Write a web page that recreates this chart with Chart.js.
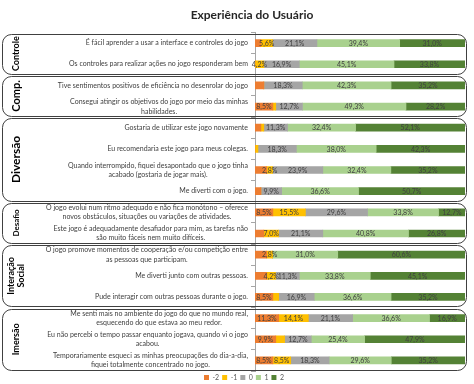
<!DOCTYPE html>
<html><head><meta charset="utf-8">
<script src="https://cdn.jsdelivr.net/npm/chart.js@4/dist/chart.umd.min.js"></script>
<style>html,body{margin:0;padding:0;background:#fff}</style>
</head><body>
<canvas id="c" width="474" height="384"></canvas>
<script>
const chartTitle = "Experiência do Usuário";
const questions = [
  "É fácil aprender a usar a interface e controles do jogo",
  "Os controles para realizar ações no jogo responderam bem",
  "Tive sentimentos positivos de eficiência no desenrolar do jogo",
  ["Consegui atingir os objetivos do jogo por meio das minhas", "habilidades."],
  "Gostaria de utilizar este jogo novamente",
  "Eu recomendaria este jogo para meus colegas.",
  ["Quando interrompido, fiquei desapontado que o jogo tinha", "acabado (gostaria de jogar mais)."],
  "Me diverti com o jogo.",
  ["O jogo evolui num ritmo adequado e não fica monótono – oferece", "novos obstáculos, situações ou variações de atividades."],
  ["Este jogo é adequadamente desafiador para mim, as tarefas não", "são muito fáceis nem muito difíceis."],
  ["O jogo promove momentos de cooperação e/ou competição entre", "as pessoas que participam."],
  "Me diverti junto com outras pessoas.",
  "Pude interagir com outras pessoas durante o jogo.",
  ["Me senti mais no ambiente do jogo do que no mundo real,", "esquecendo do que estava ao meu redor."],
  ["Eu não percebi o tempo passar enquanto jogava, quando vi o jogo", "acabou."],
  ["Temporariamente esqueci as minhas preocupações do dia-a-dia,", "fiquei totalmente concentrado no jogo."]
];
const groupNames = [["Controle"], ["Comp."], ["Diversão"], ["Desafio"], ["Interação", "Social"], ["Imersão"]];
const groupSizes = [2, 2, 4, 2, 3, 3];
const seriesNames = ["-2", "-1", "0", "1", "2"];
const valM2 = [2.8, 0, 4.2, 8.5, 2.8, 0, 5.6, 2.8, 8.5, 4.2, 5.6, 5.6, 8.5, 11.3, 9.9, 8.5];
const valM1 = [5.6, 4.2, 0, 1.4, 1.4, 1.4, 2.8, 0, 15.5, 7.0, 2.8, 4.2, 2.8, 14.1, 4.2, 8.5];
const val0  = [21.1, 16.9, 18.3, 12.7, 11.3, 18.3, 23.9, 9.9, 29.6, 21.1, 0, 11.3, 16.9, 21.1, 12.7, 18.3];
const val1  = [39.4, 45.1, 42.3, 49.3, 32.4, 38.0, 32.4, 36.6, 33.8, 40.8, 31.0, 33.8, 36.6, 36.6, 25.4, 29.6];
const val2  = [31.0, 33.8, 35.2, 28.2, 52.1, 42.3, 35.2, 50.7, 12.7, 26.8, 60.6, 45.1, 35.2, 16.9, 47.9, 35.2];
// rows whose value label is not shown in the original
const hiddenLabelsM2 = [0, 2, 4, 6, 7, 9, 10, 11];
const hiddenLabelsM1 = [3, 4, 5, 12, 14];

const colors = ["#ED7D31", "#FFC000", "#A5A5A5", "#A9D18E", "#548235"];
const seriesValues = [valM2, valM1, val0, val1, val2];
const hiddenBySeries = [hiddenLabelsM2, hiddenLabelsM1, [], [], []];

const FONT = "Lato, 'Liberation Sans', sans-serif";
Chart.defaults.font.family = FONT;

const overlay = {
  id: 'overlay',
  beforeDatasetsDraw(chart) {
    const ctx = chart.ctx, y = chart.scales.y;
    const half = (y.getPixelForTick(1) - y.getPixelForTick(0)) / 2;
    let start = 0;
    ctx.save();
    ctx.strokeStyle = '#404040';
    ctx.lineWidth = 1;
    groupSizes.forEach((n) => {
      const top = y.getPixelForTick(start) - half + 1;
      const bot = y.getPixelForTick(start + n - 1) + half - 1;
      ctx.beginPath();
      ctx.roundRect(2.5, Math.round(top) + 0.5, 464, Math.round(bot - top), 9);
      ctx.stroke();
      start += n;
    });
    ctx.restore();
  },
  afterDatasetsDraw(chart) {
    const ctx = chart.ctx;
    ctx.save();
    ctx.font = "7px " + FONT;
    ctx.fillStyle = '#404040';
    ctx.textAlign = 'center';
    ctx.textBaseline = 'middle';
    chart.data.datasets.forEach((ds, di) => {
      const meta = chart.getDatasetMeta(di);
      meta.data.forEach((bar, i) => {
        const v = ds.data[i];
        if (!v || hiddenBySeries[di].includes(i)) return;
        const cx = (bar.x + bar.base) / 2;
        ctx.fillText(v.toFixed(1).replace('.', ',') + '%', cx, bar.y + 0.5);
      });
    });
    ctx.restore();
  },
  afterDraw(chart) {
    const ctx = chart.ctx, y = chart.scales.y;
    ctx.save();
    // title
    ctx.font = "bold 12px " + FONT;
    ctx.fillStyle = '#262626';
    ctx.textAlign = 'center';
    ctx.textBaseline = 'middle';
    ctx.fillText(chartTitle, 252, 15);
    // question labels
    ctx.font = "7px " + FONT;
    ctx.fillStyle = '#404040';
    const lh = 9.5;
    chart.data.labels.forEach((lab, i) => {
      const lines = Array.isArray(lab) ? lab : [lab];
      const w = Math.max(...lines.map(l => ctx.measureText(l).width));
      const cx = 248 - w / 2;
      const py = y.getPixelForTick(i);
      lines.forEach((l, k) => {
        ctx.fillText(l, cx, py + (k - (lines.length - 1) / 2) * lh);
      });
    });
    // group labels
    const half = (y.getPixelForTick(1) - y.getPixelForTick(0)) / 2;
    const gsize = [9, 11, 12, 8, 9, 9];
    let start = 0;
    ctx.fillStyle = '#000';
    groupSizes.forEach((n, g) => {
      const top = y.getPixelForTick(start) - half;
      const bot = y.getPixelForTick(start + n - 1) + half;
      const cy = (top + bot) / 2;
      const lines = groupNames[g];
      ctx.font = "bold " + gsize[g] + "px " + FONT;
      const glh = gsize[g] * 1.15;
      lines.forEach((l, k) => {
        ctx.save();
        ctx.translate(16 + (k - (lines.length - 1) / 2) * glh, cy);
        ctx.rotate(-Math.PI / 2);
        ctx.fillText(l, 0, 0);
        ctx.restore();
      });
      start += n;
    });
    ctx.restore();
  }
};

new Chart(document.getElementById('c'), {
  type: 'bar',
  data: {
    labels: questions,
    datasets: seriesNames.map((name, k) => ({
      label: name,
      data: seriesValues[k],
      backgroundColor: colors[k],
      borderWidth: 0,
      barThickness: 7
    }))
  },
  options: {
    indexAxis: 'y',
    responsive: false,
    animation: false,
    layout: { padding: { left: 23, right: 9, top: 32.5, bottom: -7 } },
    scales: {
      x: { stacked: true, min: 0, max: 100, display: false },
      y: {
        stacked: true,
        ticks: { display: false },
        grid: { drawOnChartArea: false, drawTicks: true, tickLength: 4, color: '#a6a6a6', offset: true },
        border: { display: true, color: '#a6a6a6' },
        afterFit(s) { s.width = 232; }
      }
    },
    plugins: {
      title: { display: false },
      legend: {
        position: 'bottom',
        labels: { boxWidth: 5, boxHeight: 5, font: { size: 7 }, color: '#595959', padding: 3 }
      },
      tooltip: { enabled: false }
    }
  },
  plugins: [overlay]
});
</script>
</body></html>
